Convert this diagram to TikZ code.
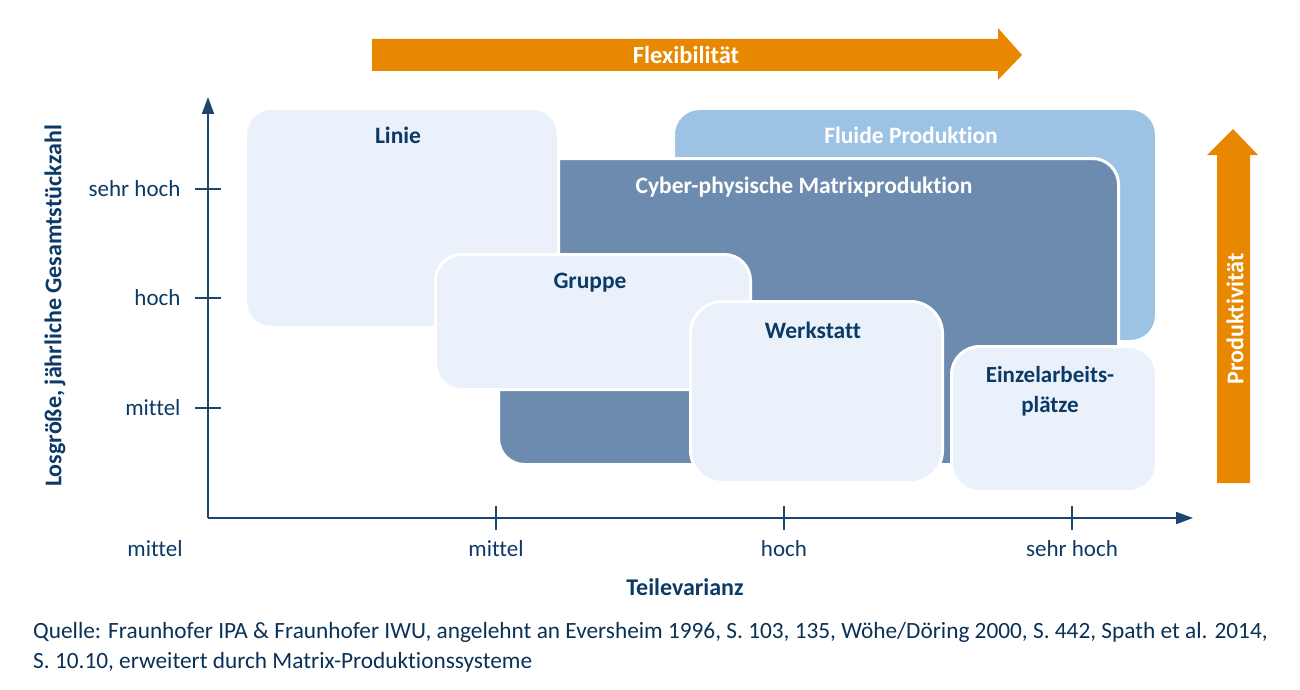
\documentclass[tikz,border=0pt]{standalone}
\usepackage{fontspec}
\setmainfont{Carlito}[Ligatures=CommonOff]
\usetikzlibrary{arrows.meta}
\definecolor{navy}{HTML}{0B3A66}
\definecolor{axisc}{HTML}{1E4470}
\definecolor{lightbox}{HTML}{EAF1FA}
\definecolor{fluid}{HTML}{9DC3E4}
\definecolor{cyber}{HTML}{6C8BAF}
\definecolor{orng}{HTML}{E88800}
\begin{document}
\begin{tikzpicture}[x=1pt,y=-1pt,
  box/.style={draw=white, line width=3pt, rounded corners=26pt, anchor=north west, inner sep=0pt},
  lbl/.style={font=\fontsize{23.5}{26}\selectfont\bfseries, text=navy},
  wlbl/.style={font=\fontsize{23.5}{26}\selectfont\bfseries, text=white},
  tick/.style={font=\fontsize{23}{26}\selectfont, text=navy},
  axis/.style={draw=axisc, line width=1.8pt},
  arrowfill/.style={fill=orng}]
\useasboundingbox (0,0) rectangle (1300,690);
% Flexibilitaet arrow
\fill[arrowfill] (372,39) -- (998,39) -- (998,28) -- (1022,55) -- (998,80) -- (998,71) -- (372,71) -- cycle;
\node[font=\fontsize{24.5}{26}\selectfont\bfseries, text=white] (flex) at (686,55) {Flexibilität};
% Produktivitaet arrow
\fill[arrowfill] (1217,483) -- (1217,155) -- (1207,155) -- (1233,129) -- (1258,155) -- (1250,155) -- (1250,483) -- cycle;
\node[font=\fontsize{24}{26}\selectfont\bfseries, text=white, rotate=90] (prod) at (1235,319) {Produktivität};
% boxes
\node[box, fill=fluid, minimum width=483pt, minimum height=233pt] (fluide) at (672,107) {};
\node[box, fill=cyber, minimum width=620pt, minimum height=306pt] (cps) at (497,157) {};
\node[box, fill=lightbox, minimum width=313pt, minimum height=219pt] (linie) at (244,107) {};
\node[box, fill=lightbox, minimum width=315pt, minimum height=135pt] (gruppe) at (434,253) {};
\node[box, fill=lightbox, minimum width=252pt, minimum height=181pt, rounded corners=32pt] (werk) at (689,300) {};
\node[box, fill=lightbox, minimum width=205pt, minimum height=145pt, rounded corners=28pt] (einzel) at (950,345) {};
% labels
\node[lbl] (tlinie) at (398,135) {Linie};
\node[wlbl] (tfluide) at (911,135) {Fluide Produktion};
\node[wlbl] (tcps) at (804,187) {Cyber-physische Matrixproduktion};
\node[lbl] (tgruppe) at (590,283) {Gruppe};
\node[lbl] (twerk) at (813,330) {Werkstatt};
\node[lbl, align=center, font=\fontsize{23}{30}\selectfont\bfseries] (teinzel) at (1050,391) {Einzelarbeits-\\plätze};
% axes
\coordinate (o) at (208,518);
\coordinate (ytop) at (208,97);
\coordinate (xend) at (1193,518);
\draw[axis, -{Triangle[length=17pt,width=12pt]}] (o) -- (ytop);
\draw[axis, -{Triangle[length=17pt,width=12pt]}] (o) -- (xend);
% y ticks
\coordinate (y1) at (208,189);
\coordinate (y2) at (208,298);
\coordinate (y3) at (208,408);
\foreach \c in {y1,y2,y3} {\draw[axis, line width=1.5pt] ([xshift=-13pt]\c) -- ([xshift=13pt]\c);}
\node[tick, anchor=east] (ysh) at (184,189) {sehr hoch};
\node[tick, anchor=east] (yh) at (184,298) {hoch};
\node[tick, anchor=east] (ym) at (184,408) {mittel};
% x ticks
\coordinate (x1) at (496,518);
\coordinate (x2) at (784,518);
\coordinate (x3) at (1072,518);
\foreach \c in {x1,x2,x3} {\draw[axis, line width=1.5pt] ([yshift=-12pt]\c) -- ([yshift=12pt]\c);}
\node[tick] (x0l) at (155,549) {mittel};
\node[tick] (x1l) at (496,549) {mittel};
\node[tick] (x2l) at (784,549) {hoch};
\node[tick] (x3l) at (1072,549) {sehr hoch};
% axis titles
\node[lbl, font=\fontsize{24}{26}\selectfont\bfseries] (xt) at (685,587) {Teilevarianz};
\node[lbl, rotate=90, font=\fontsize{24}{26}\selectfont\bfseries] (yt) at (55,306) {Losgröße, jährliche Gesamtstückzahl};
% source
\node[anchor=north west, align=left, text=navy!85!black, inner sep=0pt, font=\fontsize{23.3}{30}\selectfont] (src) at (33,622) {Quelle: Fraunhofer IPA \& Fraunhofer IWU, angelehnt an Eversheim 1996, S. 103, 135, Wöhe/Döring 2000, S. 442, Spath et al. 2014,\\S. 10.10, erweitert durch Matrix-Produktionssysteme};
\end{tikzpicture}
\end{document}
